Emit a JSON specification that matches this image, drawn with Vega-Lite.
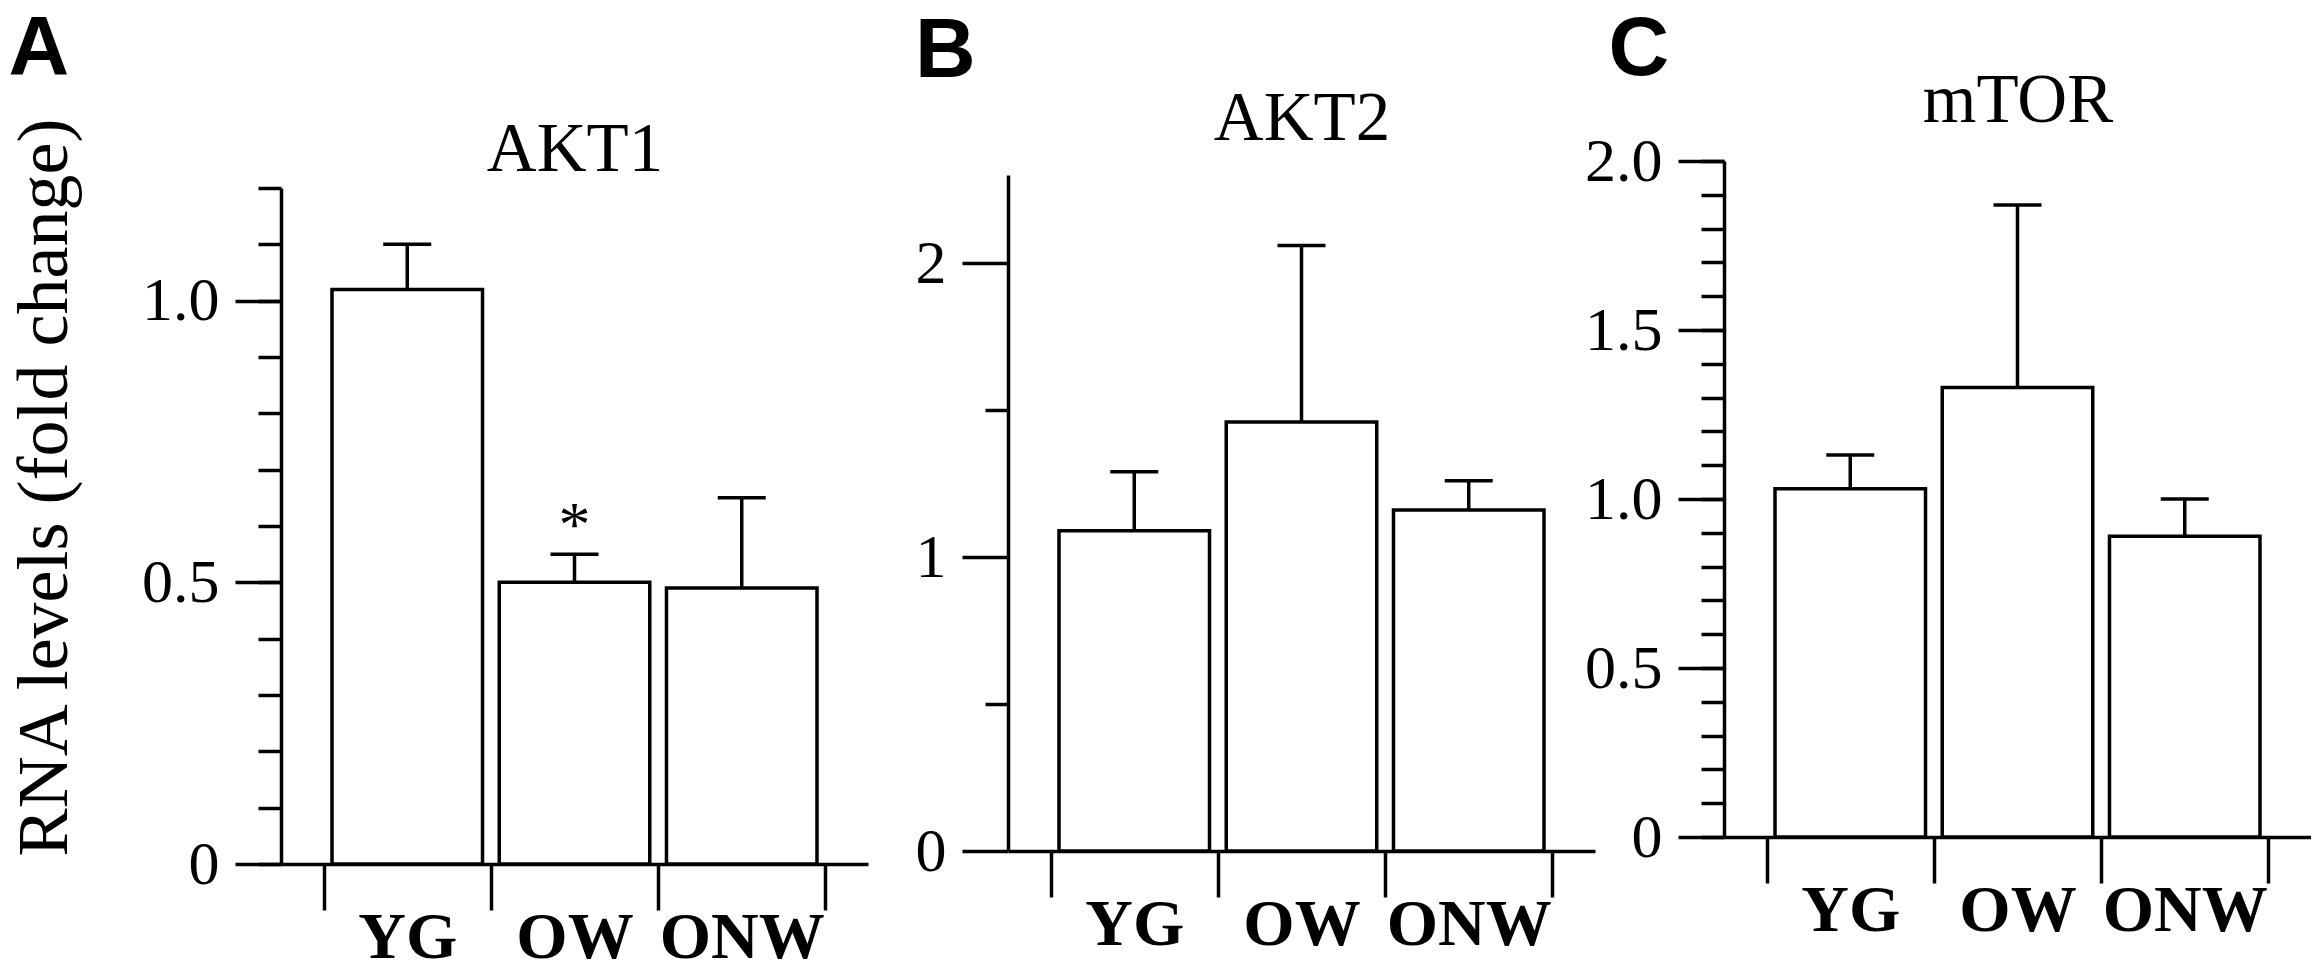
{
  "$schema": "https://vega.github.io/schema/vega-lite/v6.json",
  "background": "white",
  "padding": {"left": 8, "top": 8, "right": 0, "bottom": 0},
  "data": {"values": [
    {"panel": "A", "group": "YG", "mean": 1.02, "upper": 1.10, "sig": ""},
    {"panel": "A", "group": "OW", "mean": 0.50, "upper": 0.55, "sig": "*"},
    {"panel": "A", "group": "ONW", "mean": 0.49, "upper": 0.65, "sig": ""},
    {"panel": "B", "group": "YG", "mean": 1.09, "upper": 1.29, "sig": ""},
    {"panel": "B", "group": "OW", "mean": 1.46, "upper": 2.06, "sig": ""},
    {"panel": "B", "group": "ONW", "mean": 1.16, "upper": 1.26, "sig": ""},
    {"panel": "C", "group": "YG", "mean": 1.03, "upper": 1.13, "sig": ""},
    {"panel": "C", "group": "OW", "mean": 1.33, "upper": 1.87, "sig": ""},
    {"panel": "C", "group": "ONW", "mean": 0.89, "upper": 1.00, "sig": ""}
  ]},
  "spacing": 47,
  "center": true,
  "hconcat": [
    {
      "width": 587, "height": 676,
      "title": {"text": "A", "anchor": "start", "frame": "bounds", "font": "Liberation Sans", "fontSize": 84, "fontWeight": "bold", "color": "black", "offset": 22.5},
      "transform": [{"filter": "datum.panel == 'A'"}],
      "resolve": {"axis": {"x": "independent", "y": "independent"}},
      "layer": [
        {
          "mark": {"type": "bar", "fill": "white", "stroke": "black", "strokeWidth": 3.5, "opacity": 1, "width": {"band": 0.9}},
          "encoding": {
            "x": {"field": "group", "type": "nominal", "sort": ["YG", "OW", "ONW"], "scale": {"paddingInner": 0, "paddingOuter": 0.255},
              "axis": {"orient": "bottom", "title": null, "tickBand": "extent", "tickSize": 46, "tickWidth": 3.5, "tickColor": "black", "domainColor": "black", "domainWidth": 3.5, "labelAngle": 0, "labelFont": "Liberation Serif", "labelFontSize": 66, "labelFontWeight": "bold", "labelColor": "black", "labelPadding": -5, "labelOverlap": false}},
            "y": {"field": "mean", "type": "quantitative", "scale": {"domain": [0, 1.2], "nice": false},
              "axis": {"orient": "left", "values": [0, 0.5, 1], "tickSize": 46, "tickWidth": 3.5, "tickColor": "black", "domainColor": "black", "domainWidth": 3.5, "labelFont": "Liberation Serif", "labelFontSize": 62, "labelColor": "black", "labelPadding": 16, "labelFlush": false, "labelOverlap": false, "labelExpr": "datum.value == 0 ? '0' : format(datum.value, '.1f')", "title": "RNA levels (fold change)", "titleFont": "Liberation Serif", "titleFontSize": 72, "titleFontWeight": "normal", "titleColor": "black", "titlePadding": 60, "titleY": 299}}
          }
        },
        {
          "mark": {"type": "rule", "stroke": "black", "strokeWidth": 3.5, "opacity": 1},
          "encoding": {
            "x": {"field": "group", "type": "nominal", "sort": ["YG", "OW", "ONW"], "scale": {"paddingInner": 0, "paddingOuter": 0.255},
              "axis": {"orient": "top", "title": "AKT1", "titleFont": "Liberation Serif", "titleFontSize": 69, "titleFontWeight": "normal", "titleColor": "black", "titlePadding": 3.5, "labels": false, "ticks": false, "domain": false}},
            "y": {"field": "mean", "type": "quantitative", "scale": {"domain": [0, 1.2], "nice": false},
              "axis": {"orient": "left", "values": [0, 0.1, 0.2, 0.3, 0.4, 0.5, 0.6, 0.7, 0.8, 0.9, 1.0, 1.1, 1.2], "tickSize": 23, "tickWidth": 3.5, "tickColor": "black", "labels": false, "domain": false, "title": null}},
            "y2": {"field": "upper"}
          }
        },
        {
          "mark": {"type": "tick", "color": "black", "size": 48, "thickness": 3.5, "opacity": 1},
          "encoding": {
            "x": {"field": "group", "type": "nominal", "sort": ["YG", "OW", "ONW"], "scale": {"paddingInner": 0, "paddingOuter": 0.255}, "axis": null},
            "y": {"field": "upper", "type": "quantitative", "scale": {"domain": [0, 1.2], "nice": false}, "axis": null}
          }
        },
        {
          "transform": [{"filter": "datum.sig != ''"}],
          "mark": {"type": "text", "font": "Liberation Serif", "fontSize": 64, "color": "black", "baseline": "alphabetic", "dy": -8, "opacity": 1},
          "encoding": {
            "x": {"field": "group", "type": "nominal", "sort": ["YG", "OW", "ONW"], "scale": {"paddingInner": 0, "paddingOuter": 0.255}, "axis": null},
            "y": {"field": "upper", "type": "quantitative", "scale": {"domain": [0, 1.2], "nice": false}, "axis": null},
            "text": {"field": "sig"}
          }
        }
      ]
    },
    {
      "spacing": -11,
      "center": true,
      "hconcat": [
        {
          "width": 587, "height": 676,
          "title": {"text": "B", "anchor": "start", "frame": "bounds", "font": "Liberation Sans", "fontSize": 84, "fontWeight": "bold", "color": "black", "offset": -10.5},
          "transform": [{"filter": "datum.panel == 'B'"}],
          "resolve": {"axis": {"x": "independent", "y": "independent"}},
          "layer": [
            {
              "mark": {"type": "bar", "fill": "white", "stroke": "black", "strokeWidth": 3.5, "opacity": 1, "width": {"band": 0.9}},
              "encoding": {
                "x": {"field": "group", "type": "nominal", "sort": ["YG", "OW", "ONW"], "scale": {"paddingInner": 0, "paddingOuter": 0.255},
                  "axis": {"orient": "bottom", "title": null, "tickBand": "extent", "tickSize": 46, "tickWidth": 3.5, "tickColor": "black", "domainColor": "black", "domainWidth": 3.5, "labelAngle": 0, "labelFont": "Liberation Serif", "labelFontSize": 66, "labelFontWeight": "bold", "labelColor": "black", "labelPadding": -5, "labelOverlap": false, "labelExpr": "[datum.label, '']", "labelLineHeight": 26}},
                "y": {"field": "mean", "type": "quantitative", "scale": {"domain": [0, 2.3], "nice": false},
                  "axis": {"orient": "left", "values": [0, 1, 2], "tickSize": 46, "tickWidth": 3.5, "tickColor": "black", "domainColor": "black", "domainWidth": 3.5, "labelFont": "Liberation Serif", "labelFontSize": 62, "labelColor": "black", "labelPadding": 16, "labelFlush": false, "labelOverlap": false, "format": "d", "title": null}}
              }
            },
            {
              "mark": {"type": "rule", "stroke": "black", "strokeWidth": 3.5, "opacity": 1},
              "encoding": {
                "x": {"field": "group", "type": "nominal", "sort": ["YG", "OW", "ONW"], "scale": {"paddingInner": 0, "paddingOuter": 0.255},
                  "axis": {"orient": "top", "title": "AKT2", "titleFont": "Liberation Serif", "titleFontSize": 69, "titleFontWeight": "normal", "titleColor": "black", "titlePadding": 21.5, "labels": false, "ticks": false, "domain": false}},
                "y": {"field": "mean", "type": "quantitative", "scale": {"domain": [0, 2.3], "nice": false},
                  "axis": {"orient": "left", "values": [0.5, 1.5], "tickSize": 23, "tickWidth": 3.5, "tickColor": "black", "labels": false, "domain": false, "title": null}},
                "y2": {"field": "upper"}
              }
            },
            {
              "mark": {"type": "tick", "color": "black", "size": 48, "thickness": 3.5, "opacity": 1},
              "encoding": {
                "x": {"field": "group", "type": "nominal", "sort": ["YG", "OW", "ONW"], "scale": {"paddingInner": 0, "paddingOuter": 0.255}, "axis": null},
                "y": {"field": "upper", "type": "quantitative", "scale": {"domain": [0, 2.3], "nice": false}, "axis": null}
              }
            }
          ]
        },
        {
          "width": 587, "height": 676,
          "title": {"text": "C", "anchor": "start", "frame": "bounds", "font": "Liberation Sans", "fontSize": 84, "fontWeight": "bold", "color": "black", "offset": -26.5, "dx": 24},
          "transform": [{"filter": "datum.panel == 'C'"}],
          "resolve": {"axis": {"x": "independent", "y": "independent"}},
          "layer": [
            {
              "mark": {"type": "bar", "fill": "white", "stroke": "black", "strokeWidth": 3.5, "opacity": 1, "width": {"band": 0.9}},
              "encoding": {
                "x": {"field": "group", "type": "nominal", "sort": ["YG", "OW", "ONW"], "scale": {"paddingInner": 0, "paddingOuter": 0.255},
                  "axis": {"orient": "bottom", "title": null, "tickBand": "extent", "tickSize": 46, "tickWidth": 3.5, "tickColor": "black", "domainColor": "black", "domainWidth": 3.5, "labelAngle": 0, "labelFont": "Liberation Serif", "labelFontSize": 66, "labelFontWeight": "bold", "labelColor": "black", "labelPadding": -5, "labelOverlap": false, "labelExpr": "[datum.label, '']", "labelLineHeight": 54}},
                "y": {"field": "mean", "type": "quantitative", "scale": {"domain": [0, 2], "nice": false},
                  "axis": {"orient": "left", "values": [0, 0.5, 1, 1.5, 2], "tickSize": 46, "tickWidth": 3.5, "tickColor": "black", "domainColor": "black", "domainWidth": 3.5, "labelFont": "Liberation Serif", "labelFontSize": 62, "labelColor": "black", "labelPadding": 16, "labelFlush": false, "labelOverlap": false, "labelExpr": "datum.value == 0 ? '0' : format(datum.value, '.1f')", "title": null}}
              }
            },
            {
              "mark": {"type": "rule", "stroke": "black", "strokeWidth": 3.5, "opacity": 1},
              "encoding": {
                "x": {"field": "group", "type": "nominal", "sort": ["YG", "OW", "ONW"], "scale": {"paddingInner": 0, "paddingOuter": 0.255},
                  "axis": {"orient": "top", "title": "mTOR", "titleFont": "Liberation Serif", "titleFontSize": 69, "titleFontWeight": "normal", "titleColor": "black", "titlePadding": 25.5, "labels": false, "ticks": false, "domain": false}},
                "y": {"field": "mean", "type": "quantitative", "scale": {"domain": [0, 2], "nice": false},
                  "axis": {"orient": "left", "values": [0, 0.1, 0.2, 0.3, 0.4, 0.5, 0.6, 0.7, 0.8, 0.9, 1.0, 1.1, 1.2, 1.3, 1.4, 1.5, 1.6, 1.7, 1.8, 1.9, 2.0], "tickSize": 23, "tickWidth": 3.5, "tickColor": "black", "labels": false, "domain": false, "title": null}},
                "y2": {"field": "upper"}
              }
            },
            {
              "mark": {"type": "tick", "color": "black", "size": 48, "thickness": 3.5, "opacity": 1},
              "encoding": {
                "x": {"field": "group", "type": "nominal", "sort": ["YG", "OW", "ONW"], "scale": {"paddingInner": 0, "paddingOuter": 0.255}, "axis": null},
                "y": {"field": "upper", "type": "quantitative", "scale": {"domain": [0, 2], "nice": false}, "axis": null}
              }
            }
          ]
        }
      ]
    }
  ],
  "config": {"view": {"stroke": null}, "axis": {"grid": false}}
}
